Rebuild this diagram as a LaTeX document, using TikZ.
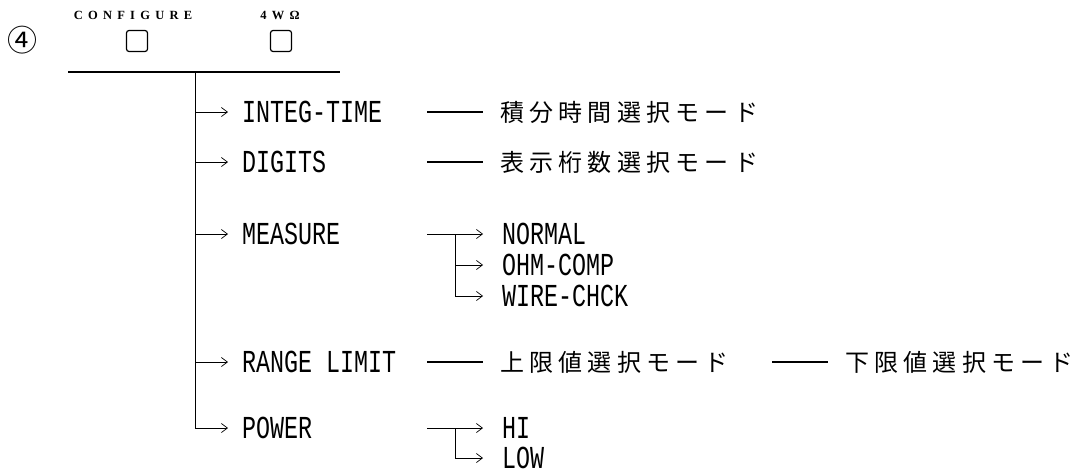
\documentclass[tikz,border=0pt]{standalone}
\usepackage{fontspec}
\newfontfamily\menufont{Liberation Mono}[FakeStretch=0.73]
\newfontfamily\jpfont{Noto Sans CJK JP}[LetterSpace=22]
\newfontfamily\keyfont{Liberation Serif}[LetterSpace=42]
\newfontfamily\numfont{Noto Sans CJK JP}
\usepackage{tikz}
\usetikzlibrary{arrows.meta,positioning}

\begin{document}
\begin{tikzpicture}[
    x=1pt, y=-1pt,
    >={Straight Barb[length=6pt,width=9pt]},
    every node/.style={inner sep=0pt, outer sep=0pt},
    key_box/.style={draw, line width=1.2pt, rounded corners=2.5pt, minimum size=21pt},
    key_label/.style={font=\keyfont\bfseries\fontsize{12.5}{13}\selectfont},
    menu_item/.style={anchor=west, inner xsep=14pt, font=\menufont\fontsize{32}{33}\selectfont},
    sub_item/.style={anchor=west, inner xsep=19pt, font=\menufont\fontsize{32}{33}\selectfont},
    mode_text/.style={anchor=west, inner xsep=17pt, font=\jpfont\fontsize{24}{26}\selectfont},
    bus_line/.style={line width=1.4pt},
    tree_flow/.style={->, line width=0.7pt},
    dash_link/.style={line width=2.4pt}
]
  \useasboundingbox (0,0) rectangle (1075,474);

  % Key panel
  \node (circ_num) at (22,40) {\numfont\fontsize{30}{30}\selectfont ④};
  \node[key_label] (config_label) at (133,15) {CONFIGURE};
  \node[key_label] (wohm_label) at (280,15) {4WΩ};
  \node[key_box] (config_key) at (137,41) {};
  \node[key_box] (wohm_key) at (281,41) {};
  \coordinate (bar_left) at (68,72);
  \coordinate (bar_right) at (340,72);
  \coordinate (trunk_top) at (195,72);
  \draw[bus_line] (bar_left) -- (bar_right);

  % Menu items
  \node[menu_item] (integ) at (228,112) {INTEG-TIME};
  \node[menu_item] (digits) at (228,162) {DIGITS};
  \node[menu_item] (measure) at (228,234) {MEASURE};
  \node[menu_item] (range) at (228,362) {RANGE LIMIT};
  \node[menu_item] (power) at (228,428) {POWER};

  \foreach \item in {integ,digits,measure,range}
    \draw[tree_flow] (trunk_top |- \item.west) -- (\item.west);
  \draw[tree_flow] (trunk_top) |- (power.west);

  % Mode texts
  \node[mode_text] (integ_mode) at (483,112) {積分時間選択モード};
  \node[mode_text] (digits_mode) at (483,162) {表示桁数選択モード};
  \node[mode_text] (upper_mode) at (483,362) {上限値選択モード};
  \node[mode_text] (lower_mode) at (828,362) {下限値選択モード};

  \coordinate (integ_dash) at (427,112);
  \coordinate (digits_dash) at (427,162);
  \coordinate (upper_dash) at (427,362);
  \coordinate (lower_dash) at (772,362);
  \draw[dash_link] (integ_dash) -- (integ_mode.west);
  \draw[dash_link] (digits_dash) -- (digits_mode.west);
  \draw[dash_link] (upper_dash) -- (upper_mode.west);
  \draw[dash_link] (lower_dash) -- (lower_mode.west);

  % Measure sub-menu
  \node[sub_item] (normal) at (483,234) {NORMAL};
  \node[sub_item] (ohm) at (483,265) {OHM-COMP};
  \node[sub_item] (wire) at (483,296) {WIRE-CHCK};
  \coordinate (measure_fork) at (427,234);
  \coordinate (measure_split) at (455,234);
  \draw[tree_flow] (measure_fork) -- (normal.west);
  \draw[tree_flow] (measure_split |- ohm.west) -- (ohm.west);
  \draw[tree_flow] (measure_split) |- (wire.west);

  % Power sub-menu
  \node[sub_item] (hi) at (483,428) {HI};
  \node[sub_item] (low) at (483,458) {LOW};
  \coordinate (power_fork) at (427,428);
  \coordinate (power_split) at (455,428);
  \draw[tree_flow] (power_fork) -- (hi.west);
  \draw[tree_flow] (power_split) |- (low.west);

\end{tikzpicture}
\end{document}
